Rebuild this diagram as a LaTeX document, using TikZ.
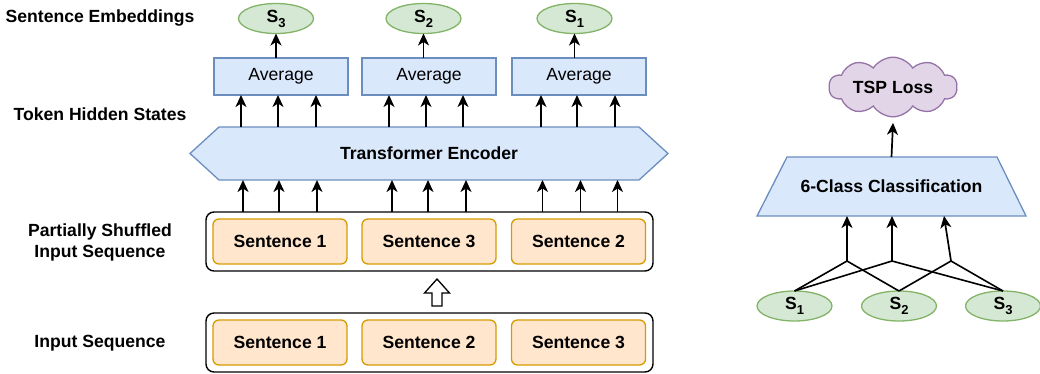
\documentclass[tikz,border=0pt]{standalone}
\usepackage{fontspec}
\setmainfont{Liberation Sans}
\usetikzlibrary{arrows.meta,shapes.symbols,shapes.geometric}
\definecolor{bfill}{HTML}{DAE8FC}\definecolor{bline}{HTML}{6C8EBF}
\definecolor{ofill}{HTML}{FFE6CC}\definecolor{oline}{HTML}{D79B00}
\definecolor{gfill}{HTML}{D5E8D4}\definecolor{gline}{HTML}{82B366}
\definecolor{pfill}{HTML}{E1D5E7}\definecolor{pline}{HTML}{9673A6}
\newcommand{\subidx}[1]{\raisebox{-0.28em}{\fontsize{13}{13}\selectfont #1}}
\tikzset{
  base/.style={font=\fontsize{17.6}{21}\selectfont, inner sep=0pt, outer sep=0pt},
  bold/.style={base, font=\fontsize{17.6}{21}\selectfont\bfseries},
  avgbox/.style={base, draw=bline, fill=bfill, line width=1.3pt, minimum width=134pt, minimum height=37pt},
  sentbox/.style={bold, draw=oline, fill=ofill, line width=1.3pt, rounded corners=6pt, minimum width=134pt, minimum height=45pt},
  outerbox/.style={draw=black, line width=1.4pt, rounded corners=8pt, minimum width=447pt, minimum height=59pt, inner sep=0pt, outer sep=0pt},
  emb/.style={bold, ellipse, draw=gline, fill=gfill, line width=1.3pt, minimum width=75pt, minimum height=30pt},
  arr/.style={line width=1.7pt, -{Stealth[length=12pt, width=11pt, inset=3.5pt]}},
  plain/.style={line width=1.6pt},
  lbl/.style={bold, align=center},
}
\begin{document}
\begin{tikzpicture}[x=1pt, y=-1pt]
\useasboundingbox (0,0) rectangle (1040,373);

% left labels
\node[lbl] (l1) at (100,18) {Sentence Embeddings};
\node[lbl] (l2) at (100,114) {Token Hidden States};
\node[lbl] (l3) at (100,242) {Partially Shuffled\\Input Sequence};
\node[lbl] (l4) at (100,343) {Input Sequence};

% sentence embeddings
\node[emb] (e3) at (276,18.5) {S\subidx{3}};
\node[emb] (e2) at (423.5,18.5) {S\subidx{2}};
\node[emb] (e1) at (574.5,18.5) {S\subidx{1}};

% averages
\node[avgbox] (a1) at (281,76.5) {Average};
\node[avgbox] (a2) at (429,76.5) {Average};
\node[avgbox] (a3) at (579,76.5) {Average};

\draw[arr] (a1.north -| e3.south) -- (e3.south);
\draw[arr] (a2.north -| e2.south) -- (e2.south);
\draw[arr] (a3.north -| e1.south) -- (e1.south);

% encoder
\draw[draw=bline, fill=bfill, line width=1.3pt]
  (190,153.5) -- (219,127) -- (639,127) -- (668,153.5) -- (639,180) -- (219,180) -- cycle;
\node[bold, minimum width=478pt, minimum height=53pt] (enc) at (429,153.5) {Transformer Encoder};

\foreach \dx in {-40,-3,35} \draw[arr] ([xshift=\dx pt]a1.south |- enc.north) -- ([xshift=\dx pt]a1.south);
\foreach \dx in {-40,-3,34} \draw[arr] ([xshift=\dx pt]a2.south |- enc.north) -- ([xshift=\dx pt]a2.south);
\foreach \dx in {-38,-2,36} \draw[arr] ([xshift=\dx pt]a3.south |- enc.north) -- ([xshift=\dx pt]a3.south);

% shuffled sequence
\node[outerbox] (shuf) at (429.5,241.5) {};
\node[sentbox] (s1) at (280,241.5) {Sentence 1};
\node[sentbox] (s3) at (429,241.5) {Sentence 3};
\node[sentbox] (s2) at (578.5,241.5) {Sentence 2};

\foreach \dx in {-37,-1,37} \draw[arr] ([xshift=\dx pt]s1.north |- shuf.north) -- ([xshift=\dx pt]s1.north |- enc.south);
\foreach \dx in {-37,-1,37} \draw[arr] ([xshift=\dx pt]s3.north |- shuf.north) -- ([xshift=\dx pt]s3.north |- enc.south);
\foreach \dx in {-36,2,39} \draw[arr] ([xshift=\dx pt]s2.north |- shuf.north) -- ([xshift=\dx pt]s2.north |- enc.south);

% input sequence
\node[outerbox] (inp) at (429.5,342.5) {};
\node[sentbox] (i1) at (280,342.5) {Sentence 1};
\node[sentbox] (i2) at (429,342.5) {Sentence 2};
\node[sentbox] (i3) at (578.5,342.5) {Sentence 3};

% hollow arrow between input and shuffled
\draw[line width=1.3pt, fill=white, line join=miter]
  (437,279) -- (449.5,293) -- (442,293) -- (442,306) -- (432,306) -- (432,293) -- (424.5,293) -- cycle;

% right side
\node[bold, cloud, cloud puffs=10, cloud puff arc=115, aspect=2.67, draw=pline, fill=pfill, line width=1.3pt,
      minimum width=128pt, minimum height=50pt] (loss) at (893,87) {TSP Loss};

\draw[draw=bline, fill=bfill, line width=1.3pt]
  (757,216) -- (787,157) -- (997,157) -- (1026,216) -- cycle;
\node[bold, minimum width=269pt, minimum height=59pt] (cls) at (891.5,186.5) {6-Class Classification};

\draw[arr] (cls.north) -- ([yshift=-6pt]loss.south);

\node[emb] (r1) at (794.5,306) {S\subidx{1}};
\node[emb] (r2) at (899,306) {S\subidx{2}};
\node[emb] (r3) at (1003,306) {S\subidx{3}};

\coordinate (j1) at (847,261);
\coordinate (j2) at (892,261);
\coordinate (j3) at (951,261);
\coordinate (t3) at (944,216);

\draw[plain] (r1.north) -- (j1);
\draw[plain] (r1.north) -- (j2);
\draw[plain] (r2.north) -- (j1);
\draw[plain] (r2.north) -- (j3);
\draw[plain] (r3.north) -- (j2);
\draw[plain] (r3.north) -- (j3);

\draw[arr] (j1) -- (j1 |- cls.south);
\draw[arr] (j2) -- (j2 |- cls.south);
\draw[arr] (j3) -- (t3);
\end{tikzpicture}
\end{document}
